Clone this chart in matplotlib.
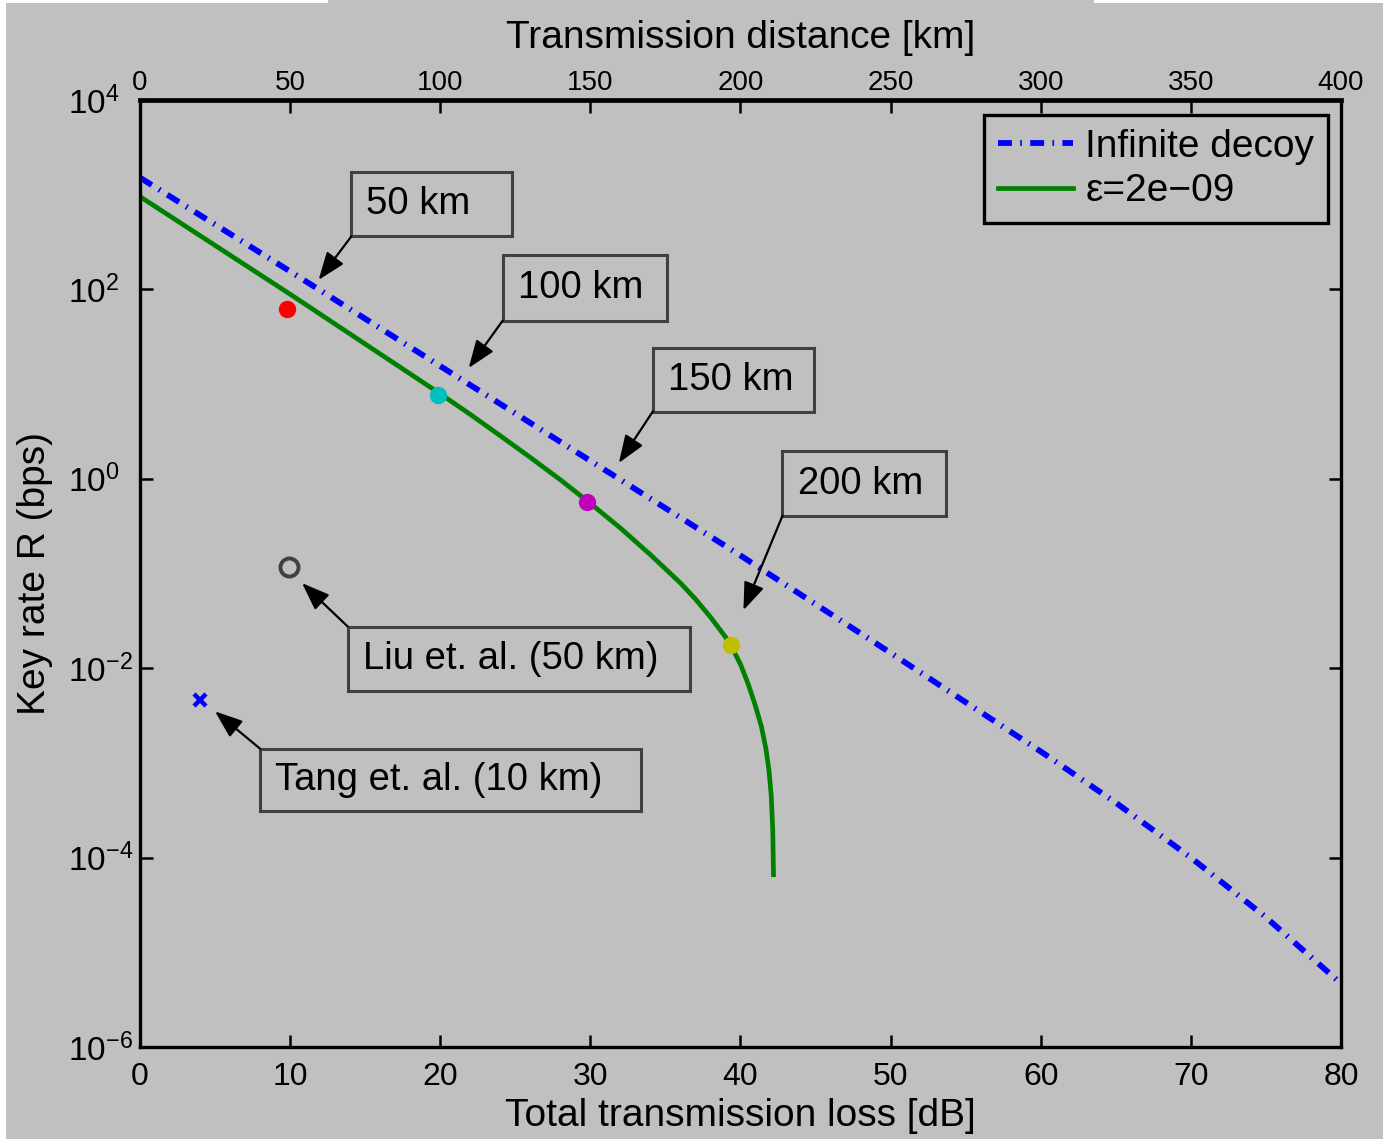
import matplotlib
matplotlib.use("Agg")
import matplotlib.pyplot as plt
from matplotlib.patches import Rectangle
from matplotlib.ticker import FixedLocator, NullLocator, LogFormatterSciNotation

# ---- data ----
loss_inf = [0, 10, 20, 30, 40, 50, 55, 60, 65, 70, 75, 80]
rate_inf = [1514, 155, 15.5, 1.55, 0.155, 0.0145, 0.00437, 0.00132,
            3.8e-4, 1.0e-4, 2.34e-5, 4.68e-6]

loss_eps = [0, 10, 20, 22, 24, 26, 28, 30, 32, 34, 36, 37, 38, 39, 39.5,
            40, 40.5, 41, 41.4, 41.7, 41.9, 42.05, 42.15, 42.2]
rate_eps = [955, 89, 7.9, 4.79, 2.85, 1.68, 0.977, 0.55, 0.302, 0.158,
            0.0794, 0.0537, 0.0347, 0.0214, 0.0158, 0.011, 0.0069, 0.0040,
            0.0024, 0.0014, 8.3e-4, 4.5e-4, 2.0e-4, 6.6e-5]

dot_loss = [9.8, 19.85, 29.8, 39.4]
dot_rate = [62, 7.7, 0.57, 0.0176]
dot_colors = ["#ff0000", "#00bfbf", "#bf00bf", "#bfbf00"]

liu_loss, liu_rate = 9.9, 0.117
tang_loss, tang_rate = 4.0, 0.0046

# label text, arrow tip (loss, rate), box (x0, y0, w, h) in axes fraction, arrow start corner
callouts = [
    ("50 km",                (11.9, 126),    (0.176, 0.856, 0.134, 0.068), "bl"),
    ("100 km",               (21.9, 14.8),   (0.302, 0.767, 0.137, 0.069), "bl"),
    ("150 km",               (31.9, 1.47),   (0.427, 0.671, 0.134, 0.067), "bl"),
    ("200 km",               (40.2, 0.041),  (0.535, 0.561, 0.136, 0.068), "bl"),
    ("Liu et. al. (50 km)",  (10.8, 0.079),  (0.173, 0.376, 0.285, 0.068), "tl"),
    ("Tang et. al. (10 km)", (5.0, 0.0035),  (0.100, 0.249, 0.317, 0.066), "tl"),
]

BG = "#c0c0c0"
DB_PER_KM = 0.2

plt.rcParams.update({
    "font.family": "Liberation Sans",
    "mathtext.fontset": "custom",
    "mathtext.rm": "Liberation Sans",
    "mathtext.it": "Liberation Sans:italic",
    "mathtext.default": "regular",
    "lines.scale_dashes": False,
})

fig = plt.figure(figsize=(13.83, 11.39), dpi=100, facecolor=BG)
ax = fig.add_axes([0.1012, 0.0808, 0.8684, 0.8314])
ax.set_facecolor("none")

ax.semilogy(loss_inf, rate_inf, color="#0000ff", lw=4.2,
            linestyle=(0, (10, 6, 1.2, 6)), label="Infinite decoy")
ax.semilogy(loss_eps, rate_eps, color="#008000", lw=3.4, label="ε=2e−09")

for lx, ry, c in zip(dot_loss, dot_rate, dot_colors):
    ax.plot(lx, ry, "o", color=c, ms=12.5, mec="none")
ax.plot(liu_loss, liu_rate, "o", mfc="none", mec="#404040", mew=2.8, ms=13)
ax.plot(tang_loss, tang_rate, "x", color="#0000ff", mew=3.2, ms=8)

ax.set_xlim(0, 80)
ax.set_ylim(1e-6, 1e4)
ax.set_xticks(range(0, 81, 10))
ax.yaxis.set_major_locator(FixedLocator([1e-6, 1e-4, 1e-2, 1e0, 1e2, 1e4]))
ax.yaxis.set_minor_locator(NullLocator())
ax.yaxis.set_major_formatter(LogFormatterSciNotation())
ax.tick_params(direction="in", length=9, width=1.8, labelsize=23,
               right=True, top=False)
ax.tick_params(axis="x", pad=11)
ax.tick_params(axis="y", pad=52, labelsize=24)
for lbl in ax.get_yticklabels():
    lbl.set_horizontalalignment("left")
for s in ax.spines.values():
    s.set_linewidth(2.4)
ax.spines["top"].set_linewidth(3.4)

ax.set_xlabel("Total transmission loss [dB]", fontsize=28, labelpad=4)
ax.set_ylabel("Key rate R (bps)", fontsize=28)
ax.yaxis.set_label_coords(-0.072, 0.5)

top = ax.secondary_xaxis("top", functions=(lambda d: d / DB_PER_KM,
                                           lambda k: k * DB_PER_KM))
top.set_xticks(range(0, 401, 50))
top.tick_params(direction="in", length=9, width=1.8, labelsize=20, pad=3)
top.set_xlabel("Transmission distance [km]", fontsize=28, labelpad=16)

# callout boxes with arrows
for text, (tx, ty), (x0, y0, w, h), corner in callouts:
    ax.add_patch(Rectangle((x0, y0), w, h, transform=ax.transAxes,
                           fc=BG, ec="#404040", lw=2.2, zorder=4))
    ax.text(x0 + 0.0125, y0 + h / 2, text, transform=ax.transAxes,
            fontsize=27.5, va="center", ha="left", zorder=5)
    start = (x0, y0) if corner == "bl" else (x0, y0 + h)
    ax.annotate("", xy=(tx, ty), xycoords="data",
                xytext=start, textcoords="axes fraction",
                arrowprops=dict(arrowstyle="-|>,head_length=0.85,head_width=0.32",
                                color="black", lw=1.6, mutation_scale=20,
                                shrinkA=0, shrinkB=0), zorder=5)

leg = ax.legend(loc="upper right", bbox_to_anchor=(0.989, 0.984),
                borderaxespad=0, fontsize=28, handlelength=1.95,
                handletextpad=0.3, labelspacing=0.22, borderpad=0.35,
                fancybox=False, facecolor=BG, framealpha=1, edgecolor="black")
leg.get_frame().set_linewidth(2.4)

# white margin strips seen in the reference
fig.patches.append(Rectangle((0, 0), 6 / 1383, 1, transform=fig.transFigure,
                             fc="white", ec="none"))
fig.patches.append(Rectangle((0, 1 - 3 / 1139), 328 / 1383, 3 / 1139,
                             transform=fig.transFigure, fc="white", ec="none"))
fig.patches.append(Rectangle((1094 / 1383, 1 - 3 / 1139), 289 / 1383, 3 / 1139,
                             transform=fig.transFigure, fc="white", ec="none"))

fig.savefig("out.png", dpi=100, facecolor=BG)
